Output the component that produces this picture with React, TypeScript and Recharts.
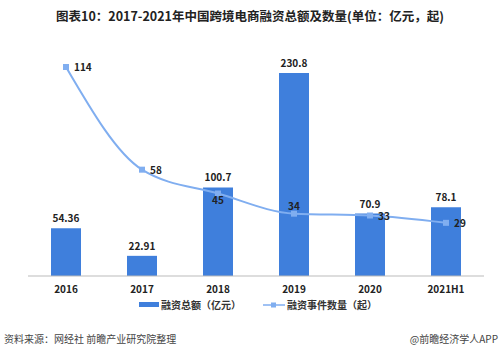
import React from 'react';
import { ComposedChart, Bar, Line, XAxis, YAxis, LabelList } from 'recharts';

const categories = ['2016', '2017', '2018', '2019', '2020', '2021H1'];
const amount = [54.36, 22.91, 100.7, 230.8, 70.9, 78.1];
const count = [114, 58, 45, 34, 33, 29];
const amountLabels = ['54.36', '22.91', '100.7', '230.8', '70.9', '78.1'];

const data = categories.map((c, i) => ({ name: c, amount: amount[i], count: count[i], amountLabel: amountLabels[i] }));

const FONT = '"Noto Sans CJK SC", "Noto Sans", sans-serif';
const BAR = '#3f7fdc';
const LINE = '#80aef0';

const placement = ['right', 'right', 'below', 'above', 'right', 'right'];

const LineLabel = (props: any) => {
  const { x, y, value, index } = props;
  const p = placement[index];
  let tx = x + 8, ty = y + 4, anchor: any = 'start';
  if (p === 'below') { tx = x; ty = y + 10; anchor = 'middle'; }
  if (p === 'above') { tx = x; ty = y - 4; anchor = 'middle'; }
  return (
    <text x={tx} y={ty} textAnchor={anchor} fontSize={10} fontWeight="bold" fill="#222" fontFamily={FONT}>
      {value}
    </text>
  );
};

export default function App() {
  return (
    <div style={{ position: 'absolute', left: 0, top: 0, width: 500, height: 352, background: '#fff', fontFamily: FONT }}>
      <div style={{ position: 'absolute', top: 6, left: 0, width: 500, textAlign: 'center', fontSize: 12.5, fontWeight: 'bold', color: '#222' }}>
        图表10：2017-2021年中国跨境电商融资总额及数量(单位：亿元，起)
      </div>
      <ComposedChart width={500} height={352} data={data} margin={{ top: 56, right: 16, bottom: 46, left: 28 }}>
        <XAxis
          dataKey="name"
          height={30}
          axisLine={{ stroke: '#bbb' }}
          tickLine={false}
          tick={{ fontSize: 10, fontWeight: 'bold', fill: '#222', fontFamily: FONT }}
          tickMargin={4}
        />
        <YAxis yAxisId="left" hide domain={[0, 250]} />
        <YAxis yAxisId="right" hide orientation="right" domain={[0, 120]} />
        <Bar yAxisId="left" dataKey="amount" fill={BAR} barSize={30} isAnimationActive={false}>
          <LabelList dataKey="amountLabel" position="top" offset={6} style={{ fontSize: 10, fontWeight: 'bold', fill: '#222', fontFamily: FONT }} />
        </Bar>
        <Line
          yAxisId="right"
          dataKey="count"
          type="monotone"
          stroke={LINE}
          strokeWidth={2}
          dot={(p: any) => <rect key={p.index} x={p.cx - 3} y={p.cy - 3} width={6} height={6} fill={LINE} />}
          isAnimationActive={false}
        >
          <LabelList dataKey="count" content={LineLabel} />
        </Line>
      </ComposedChart>
      <div style={{ position: 'absolute', top: 297, left: 0, width: 500, display: 'flex', justifyContent: 'center', alignItems: 'center', fontSize: 10, fontWeight: 'bold', color: '#333', paddingLeft: 16, boxSizing: 'border-box' }}>
        <span style={{ display: 'inline-block', width: 20, height: 5, background: BAR, marginRight: 2 }} />
        <span style={{ marginRight: 22 }}>融资总额（亿元）</span>
        <svg width={22} height={8} style={{ marginRight: 2 }}>
          <line x1={0} y1={4} x2={22} y2={4} stroke={LINE} strokeWidth={1.5} />
          <rect x={8} y={1.5} width={5} height={5} fill={LINE} />
        </svg>
        <span>融资事件数量（起）</span>
      </div>
      <div style={{ position: 'absolute', top: 331, left: 4, fontSize: 10, color: '#444' }}>资料来源：网经社 前瞻产业研究院整理</div>
      <div style={{ position: 'absolute', top: 331, right: 2, fontSize: 10, color: '#444' }}>@前瞻经济学人APP</div>
    </div>
  );
}
